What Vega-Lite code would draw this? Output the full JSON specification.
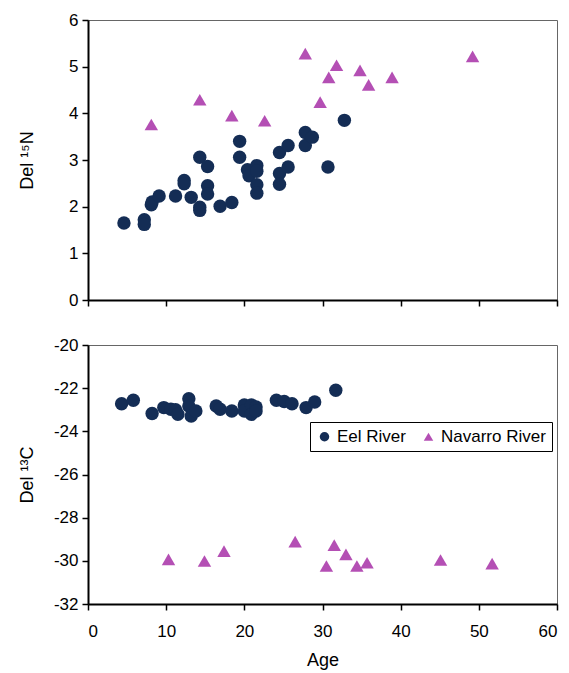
{
  "$schema": "https://vega.github.io/schema/vega-lite/v6.json",
  "padding": {"left": 17, "top": 10, "right": 8, "bottom": 5},
  "background": "white",
  "config": {
    "font": "Liberation Sans",
    "view": {"stroke": "#666666", "strokeWidth": 1},
    "axis": {
      "grid": false,
      "domainColor": "black",
      "domainWidth": 2,
      "tickColor": "black",
      "tickWidth": 1.5,
      "tickSize": 6,
      "labelFontSize": 17,
      "labelColor": "black",
      "labelPadding": 4,
      "titleFontSize": 18,
      "titleFontWeight": "normal",
      "titleColor": "black"
    },
    "concat": {"spacing": 45}
  },
  "datasets": {
    "n15": [
      {"age": 4.6, "val": 1.65, "river": "Eel River"},
      {"age": 7.2, "val": 1.72, "river": "Eel River"},
      {"age": 7.2, "val": 1.62, "river": "Eel River"},
      {"age": 8.1, "val": 2.04, "river": "Eel River"},
      {"age": 8.2, "val": 2.1, "river": "Eel River"},
      {"age": 9.1, "val": 2.23, "river": "Eel River"},
      {"age": 11.2, "val": 2.23, "river": "Eel River"},
      {"age": 12.3, "val": 2.56, "river": "Eel River"},
      {"age": 12.3, "val": 2.49, "river": "Eel River"},
      {"age": 13.2, "val": 2.2, "river": "Eel River"},
      {"age": 14.3, "val": 3.06, "river": "Eel River"},
      {"age": 14.3, "val": 1.99, "river": "Eel River"},
      {"age": 14.3, "val": 1.92, "river": "Eel River"},
      {"age": 15.3, "val": 2.86, "river": "Eel River"},
      {"age": 15.3, "val": 2.45, "river": "Eel River"},
      {"age": 15.3, "val": 2.27, "river": "Eel River"},
      {"age": 16.9, "val": 2.01, "river": "Eel River"},
      {"age": 18.4, "val": 2.09, "river": "Eel River"},
      {"age": 19.4, "val": 3.4, "river": "Eel River"},
      {"age": 19.4, "val": 3.06, "river": "Eel River"},
      {"age": 20.4, "val": 2.79, "river": "Eel River"},
      {"age": 20.6, "val": 2.66, "river": "Eel River"},
      {"age": 21.6, "val": 2.88, "river": "Eel River"},
      {"age": 21.6, "val": 2.76, "river": "Eel River"},
      {"age": 21.6, "val": 2.47, "river": "Eel River"},
      {"age": 21.6, "val": 2.29, "river": "Eel River"},
      {"age": 24.5, "val": 3.16, "river": "Eel River"},
      {"age": 24.5, "val": 2.71, "river": "Eel River"},
      {"age": 24.5, "val": 2.48, "river": "Eel River"},
      {"age": 25.6, "val": 3.31, "river": "Eel River"},
      {"age": 25.6, "val": 2.85, "river": "Eel River"},
      {"age": 27.8, "val": 3.59, "river": "Eel River"},
      {"age": 27.8, "val": 3.31, "river": "Eel River"},
      {"age": 28.7, "val": 3.49, "river": "Eel River"},
      {"age": 30.7, "val": 2.85, "river": "Eel River"},
      {"age": 32.8, "val": 3.85, "river": "Eel River"},
      {"age": 8.1, "val": 3.76, "river": "Navarro River"},
      {"age": 14.3, "val": 4.29, "river": "Navarro River"},
      {"age": 18.4, "val": 3.95, "river": "Navarro River"},
      {"age": 22.6, "val": 3.84, "river": "Navarro River"},
      {"age": 27.8, "val": 5.28, "river": "Navarro River"},
      {"age": 29.7, "val": 4.24, "river": "Navarro River"},
      {"age": 30.8, "val": 4.77, "river": "Navarro River"},
      {"age": 31.8, "val": 5.03, "river": "Navarro River"},
      {"age": 34.8, "val": 4.92, "river": "Navarro River"},
      {"age": 35.9, "val": 4.61, "river": "Navarro River"},
      {"age": 38.9, "val": 4.77, "river": "Navarro River"},
      {"age": 49.2, "val": 5.22, "river": "Navarro River"}
    ],
    "c13": [
      {"age": 4.3, "val": -22.72, "river": "Eel River"},
      {"age": 5.8, "val": -22.56, "river": "Eel River"},
      {"age": 8.2, "val": -23.17, "river": "Eel River"},
      {"age": 9.7, "val": -22.9, "river": "Eel River"},
      {"age": 10.6, "val": -22.98, "river": "Eel River"},
      {"age": 11.2, "val": -23.0, "river": "Eel River"},
      {"age": 11.5, "val": -23.21, "river": "Eel River"},
      {"age": 12.9, "val": -22.49, "river": "Eel River"},
      {"age": 12.9, "val": -22.83, "river": "Eel River"},
      {"age": 13.2, "val": -23.29, "river": "Eel River"},
      {"age": 13.8, "val": -23.06, "river": "Eel River"},
      {"age": 16.4, "val": -22.83, "river": "Eel River"},
      {"age": 16.9, "val": -22.98, "river": "Eel River"},
      {"age": 18.4, "val": -23.06, "river": "Eel River"},
      {"age": 20.0, "val": -22.78, "river": "Eel River"},
      {"age": 20.0, "val": -23.06, "river": "Eel River"},
      {"age": 20.9, "val": -22.78, "river": "Eel River"},
      {"age": 20.9, "val": -23.21, "river": "Eel River"},
      {"age": 21.5, "val": -22.87, "river": "Eel River"},
      {"age": 21.5, "val": -23.06, "river": "Eel River"},
      {"age": 24.1, "val": -22.56, "river": "Eel River"},
      {"age": 25.1, "val": -22.62, "river": "Eel River"},
      {"age": 26.1, "val": -22.72, "river": "Eel River"},
      {"age": 27.9, "val": -22.9, "river": "Eel River"},
      {"age": 29.0, "val": -22.64, "river": "Eel River"},
      {"age": 31.7, "val": -22.1, "river": "Eel River"},
      {"age": 10.3, "val": -29.93, "river": "Navarro River"},
      {"age": 14.9, "val": -30.01, "river": "Navarro River"},
      {"age": 17.4, "val": -29.55, "river": "Navarro River"},
      {"age": 26.5, "val": -29.11, "river": "Navarro River"},
      {"age": 30.5, "val": -30.24, "river": "Navarro River"},
      {"age": 31.5, "val": -29.27, "river": "Navarro River"},
      {"age": 33.0, "val": -29.7, "river": "Navarro River"},
      {"age": 34.4, "val": -30.24, "river": "Navarro River"},
      {"age": 35.7, "val": -30.09, "river": "Navarro River"},
      {"age": 45.1, "val": -29.96, "river": "Navarro River"},
      {"age": 51.7, "val": -30.13, "river": "Navarro River"}
    ]
  },
  "bounds": "flush",
  "resolve": {"legend": {"color": "independent", "shape": "independent"}},
  "vconcat": [
    {
      "width": 469,
      "height": 280,
      "data": {"name": "n15"},
      "mark": {"type": "point", "filled": true, "opacity": 1, "size": 180},
      "encoding": {
        "x": {"field": "age", "type": "quantitative", "scale": {"domain": [0, 60], "nice": false},
              "axis": {"values": [0, 10, 20, 30, 40, 50, 60], "labels": false, "title": null}},
        "y": {"field": "val", "type": "quantitative", "scale": {"domain": [0, 6], "nice": false},
              "axis": {"values": [0, 1, 2, 3, 4, 5, 6], "title": "Del ¹⁵N", "titleX": -52}},
        "color": {"field": "river", "type": "nominal", "scale": {"domain": ["Eel River", "Navarro River"], "range": ["#142d55", "#b44fb4"]}, "legend": null},
        "shape": {"field": "river", "type": "nominal", "scale": {"domain": ["Eel River", "Navarro River"], "range": ["circle", "triangle-up"]}, "legend": null}
      }
    },
    {
      "width": 469,
      "height": 259,
      "data": {"name": "c13"},
      "mark": {"type": "point", "filled": true, "opacity": 1, "size": 180},
      "encoding": {
        "x": {"field": "age", "type": "quantitative", "scale": {"domain": [0, 60], "nice": false},
              "axis": {"values": [0, 10, 20, 30, 40, 50, 60], "title": "Age", "labelPadding": 13, "titlePadding": 12}},
        "y": {"field": "val", "type": "quantitative", "scale": {"domain": [-32, -20], "nice": false},
              "axis": {"values": [-32, -30, -28, -26, -24, -22, -20], "labelExpr": "'' + datum.value", "title": "Del ¹³C", "titleX": -52}},
        "color": {"field": "river", "type": "nominal", "scale": {"domain": ["Eel River", "Navarro River"], "range": ["#142d55", "#b44fb4"]},
                  "legend": {"orient": "none", "legendX": 222, "legendY": 77, "direction": "horizontal", "title": null, "strokeColor": "black", "fillColor": "white", "padding": 6, "symbolSize": 90, "labelFontSize": 17, "labelColor": "black", "columnPadding": 14, "symbolStrokeWidth": 0}},
        "shape": {"field": "river", "type": "nominal", "scale": {"domain": ["Eel River", "Navarro River"], "range": ["circle", "triangle-up"]},
                  "legend": {"orient": "none", "legendX": 222, "legendY": 77, "direction": "horizontal", "title": null, "strokeColor": "black", "fillColor": "white", "padding": 6, "symbolSize": 90, "labelFontSize": 17, "labelColor": "black", "columnPadding": 14, "symbolStrokeWidth": 0}}
      }
    }
  ]
}
